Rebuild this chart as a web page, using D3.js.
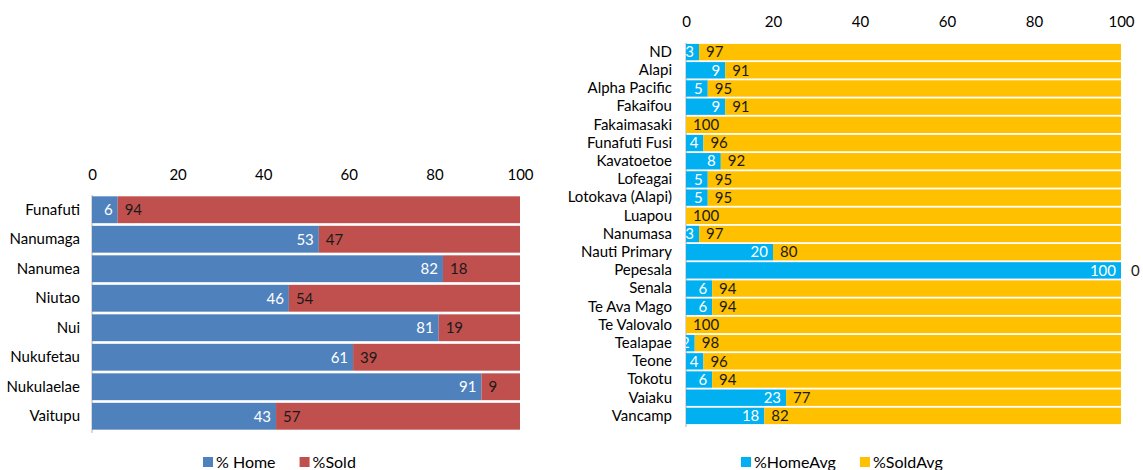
<!DOCTYPE html>
<html><head><meta charset="utf-8">
<script src="https://cdn.jsdelivr.net/npm/d3@7"></script>
<style>
body{margin:0;background:#fff;}
svg text{font-family:Lato,"Open Sans",sans-serif;}
</style></head>
<body><svg id="c" width="1143" height="470"></svg>
<script>
const islands = ["Funafuti","Nanumaga","Nanumea","Niutao","Nui","Nukufetau","Nukulaelae","Vaitupu"];
const homePct = [6,53,82,46,81,61,91,43];
const soldPct = [94,47,18,54,19,39,9,57];

const schools = ["ND","Alapi","Alpha Pacific","Fakaifou","Fakaimasaki","Funafuti Fusi","Kavatoetoe","Lofeagai","Lotokava (Alapi)","Luapou","Nanumasa","Nauti Primary","Pepesala","Senala","Te Ava Mago","Te Valovalo","Tealapae","Teone","Tokotu","Vaiaku","Vancamp"];
const homeAvg = [3,9,5,9,0,4,8,5,5,0,3,20,100,6,6,0,2,4,6,23,18];
const soldAvg = [97,91,95,91,100,96,92,95,95,100,97,80,0,94,94,100,98,96,94,77,82];

const xTicks = [0,20,40,60,80,100];

const svg = d3.select("#c");

function chart(cfg){
  const g = svg.append("g");
  const x = d3.scaleLinear().domain([0,100]).range([cfg.x0,cfg.x1]);
  const y = d3.scaleBand().domain(cfg.cats).range([cfg.y0,cfg.y1]).paddingInner(cfg.pad).paddingOuter(cfg.pad/2);
  const clipId = "clip"+cfg.id;
  svg.append("clipPath").attr("id",clipId).append("rect")
    .attr("x",cfg.x0).attr("y",cfg.y0).attr("width",cfg.x1-cfg.x0).attr("height",cfg.y1-cfg.y0);

  // top axis
  const ax = g.append("g").attr("transform",`translate(0,${cfg.axisY})`)
    .call(d3.axisTop(x).tickValues(xTicks).tickSize(0).tickPadding(0));
  ax.select(".domain").remove();
  ax.selectAll("text").attr("font-size",cfg.fs).attr("fill","#000").attr("font-family","Lato");

  // left axis
  const ay = g.append("g").attr("transform",`translate(${cfg.x0},0)`)
    .call(d3.axisLeft(y).tickSize(0).tickPadding(cfg.catPad));
  ay.select(".domain").attr("stroke","#b0b0b0").attr("d",`M0,${cfg.y0}V${cfg.y1+2}`);
  ay.selectAll("text").attr("font-size",cfg.fs).attr("fill","#000").attr("font-family","Lato");

  const rows = cfg.cats.map((c,i)=>({c,h:cfg.home[i],s:cfg.sold[i]}));
  // bars
  g.selectAll(".bh").data(rows).join("rect")
    .attr("x",x(0)).attr("y",d=>y(d.c)).attr("height",y.bandwidth())
    .attr("width",d=>x(d.h)-x(0)).attr("fill",cfg.c1);
  g.selectAll(".bs").data(rows).join("rect")
    .attr("x",d=>x(d.h)).attr("y",d=>y(d.c)).attr("height",y.bandwidth())
    .attr("width",d=>x(d.h+d.s)-x(d.h)).attr("fill",cfg.c2);
  // labels
  g.append("g").attr("clip-path",`url(#${clipId})`)
    .selectAll("text").data(rows).join("text")
    .attr("x",d=>x(d.h)-5).attr("y",d=>y(d.c)+y.bandwidth()/2).attr("dy","0.35em")
    .attr("text-anchor","end").attr("font-size",cfg.fs).attr("fill","#fff").text(d=>d.h);
  g.append("g").selectAll("text").data(rows).join("text")
    .attr("x",d=>x(d.h)+(d.s===0?10:7)).attr("y",d=>y(d.c)+y.bandwidth()/2).attr("dy","0.35em")
    .attr("text-anchor","start").attr("font-size",cfg.fs).attr("fill","#1a1a1a").text(d=>d.s);

  // legend
  const lg = g.append("g");
  let lx = cfg.legX;
  cfg.legend.forEach((t,i)=>{
    lg.append("rect").attr("x",lx).attr("y",cfg.legY-5).attr("width",10).attr("height",10).attr("fill",i?cfg.c2:cfg.c1);
    const tx = lg.append("text").attr("x",lx+13).attr("y",cfg.legY).attr("dy","0.35em")
      .attr("font-size",cfg.fs+1).attr("fill","#000").text(t);
    lx += 13 + tx.node().getComputedTextLength() + 24;
  });
}

chart({id:"L",cats:islands,home:homePct,sold:soldPct,x0:92,x1:520,y0:195,y1:431,pad:0.09,
  axisY:180,fs:15,catPad:12,c1:"#4F81BD",c2:"#C0504D",legend:["% Home","%Sold"],legX:203,legY:462});
chart({id:"R",cats:schools,home:homeAvg,sold:soldAvg,x0:686,x1:1121,y0:43,y1:425,pad:0.1,
  axisY:27,fs:15,catPad:14,c1:"#00B0F0",c2:"#FFC000",legend:["%HomeAvg","%SoldAvg"],legX:741,legY:462});
</script></body></html>
